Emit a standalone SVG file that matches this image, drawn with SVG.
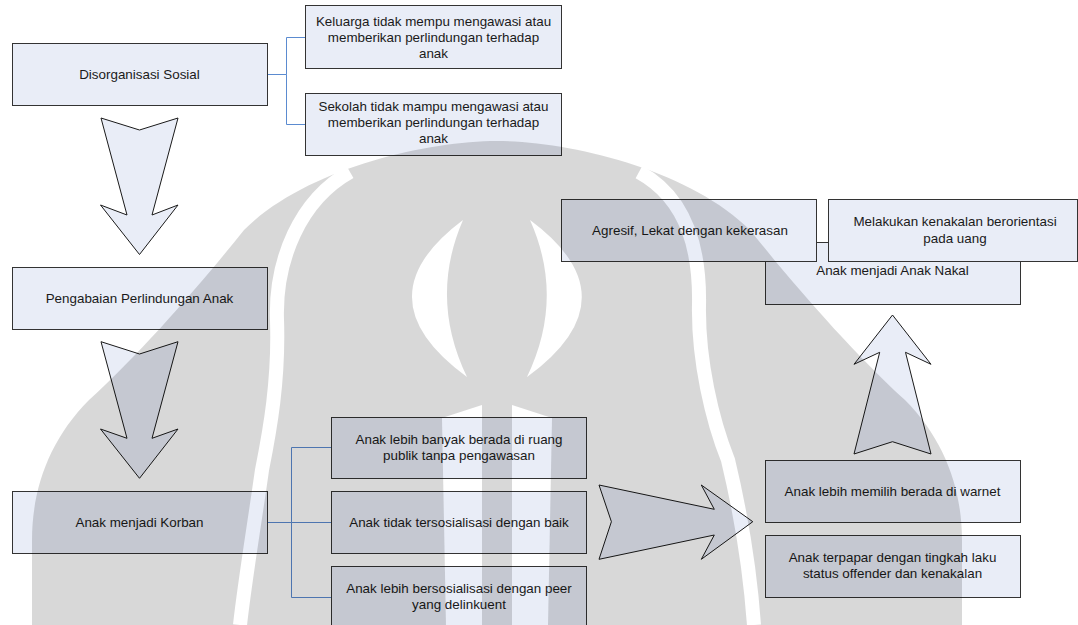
<svg xmlns="http://www.w3.org/2000/svg" width="1078" height="625" viewBox="0 0 1078 625">
<defs>
<style>
.box{fill:#E9EDF7;stroke:#333;stroke-width:1}
.arrow{fill:#E9EDF7;stroke:#1a1a1a;stroke-width:1;stroke-linejoin:miter}
.lbl{font-family:"Liberation Sans",Arial,sans-serif;font-size:13.4px;fill:#1a1a1a;text-anchor:middle}
.conn{fill:none;stroke:#5B8BD0;stroke-width:1}
.conn-dark{fill:none;stroke:#333;stroke-width:1}
</style>
<mask id="wmMask" maskUnits="userSpaceOnUse" x="0" y="0" width="1078" height="625">
<rect x="0" y="0" width="1078" height="625" fill="#fff"/>
<g fill="#000">
<path d="M463 220 Q359 298 467 377 Q429 298 463 220 Z"/>
<path d="M530 220 Q635 298 527 377 Q565 298 530 220 Z"/>
<path d="M442 418 L482 405 L482 625 L446 625 Z"/>
<path d="M552 418 L512 405 L512 625 L548 625 Z"/>
</g>
<g fill="none" stroke="#000" stroke-width="14">
<path d="M350 172 C300 200 275 260 277 320 C279 380 270 430 262 470 C255 520 245 580 240 625"/>
<path d="M639 172 C690 200 700 255 699 305 C698 360 712 420 728 460 C740 510 750 570 754 625"/>
</g>
</mask>
</defs>
<rect x="0" y="0" width="1078" height="625" fill="#fff"/>

<g id="connectors">
<path class="conn" d="M267.5 74.5 H286.5 V37.5 H305.5 M286.5 74.5 V124.5 H305.5"/>
<path class="conn" d="M267.5 522.5 H291.5 V447.5 H331.5 M291.5 522.5 H331.5 M291.5 522.5 V597.5 H331.5"/>
<path class="conn-dark" d="M816.5 242.5 H828.5"/>
</g>

<g id="node-disorganisasi">
<rect class="box" x="12.5" y="43.5" width="255" height="62"/>
<text class="lbl" x="139.5" y="78.5">Disorganisasi Sosial</text>
</g>
<g id="node-keluarga">
<rect class="box" x="305.5" y="5.5" width="256" height="63"/>
<text class="lbl" x="433.5" y="25.5">Keluarga tidak mempu mengawasi atau</text>
<text class="lbl" x="433.5" y="41.5">memberikan perlindungan terhadap</text>
<text class="lbl" x="433.5" y="57.5">anak</text>
</g>
<g id="node-sekolah">
<rect class="box" x="305.5" y="93.5" width="256" height="62"/>
<text class="lbl" x="433.5" y="110.5">Sekolah tidak mampu mengawasi atau</text>
<text class="lbl" x="433.5" y="126.5">memberikan perlindungan terhadap</text>
<text class="lbl" x="433.5" y="142.5">anak</text>
</g>
<g id="arrow-1">
<path class="arrow" d="M101 118 L139.5 130 L178 118 L152 215 L178 205 L139.5 254.5 L100.5 205 L127 215 Z"/>
</g>
<g id="node-pengabaian">
<rect class="box" x="12.5" y="267.5" width="255" height="62"/>
<text class="lbl" x="139.5" y="302.5">Pengabaian Perlindungan Anak</text>
</g>
<g id="arrow-2">
<path class="arrow" d="M101 341.7 L139.5 354 L178 341.7 L152 438.3 L178 429 L139.5 478.3 L100.5 429 L127 438.3 Z"/>
</g>
<g id="node-korban">
<rect class="box" x="12.5" y="491.5" width="255" height="62"/>
<text class="lbl" x="139.5" y="526.5">Anak menjadi Korban</text>
</g>
<g id="node-ruang-publik">
<rect class="box" x="331.5" y="417.5" width="255" height="61"/>
<text class="lbl" x="459" y="444">Anak lebih banyak berada di ruang</text>
<text class="lbl" x="459" y="460">publik tanpa pengawasan</text>
</g>
<g id="node-tersosialisasi">
<rect class="box" x="331.5" y="491.5" width="255" height="62"/>
<text class="lbl" x="459" y="526.5">Anak tidak tersosialisasi dengan baik</text>
</g>
<g id="node-peer">
<rect class="box" x="331.5" y="566.5" width="255" height="62"/>
<text class="lbl" x="459" y="593">Anak lebih bersosialisasi dengan peer</text>
<text class="lbl" x="459" y="609">yang delinkuent</text>
</g>
<g id="arrow-3">
<path class="arrow" d="M599 485 L714.3 509.3 L701.3 485 L752.8 521.7 L701.3 559.3 L714.3 535 L599 559.3 L611.4 521.7 Z"/>
</g>
<g id="node-warnet">
<rect class="box" x="765.5" y="460.5" width="255" height="62"/>
<text class="lbl" x="892.5" y="495.5">Anak lebih memilih berada di warnet</text>
</g>
<g id="node-terpapar">
<rect class="box" x="765.5" y="535.5" width="255" height="62"/>
<text class="lbl" x="892.5" y="562">Anak terpapar dengan tingkah laku</text>
<text class="lbl" x="892.5" y="578">status offender dan kenakalan</text>
</g>
<g id="arrow-4">
<path class="arrow" d="M854 454 L892.5 441.7 L931 454 L905.5 352.3 L931 364.3 L892.5 315 L854 364.3 L879.7 352.3 Z"/>
</g>
<g id="node-anak-nakal">
<rect class="box" x="765.5" y="242.5" width="255" height="62"/>
<text class="lbl" x="892.5" y="275">Anak menjadi Anak Nakal</text>
</g>
<g id="node-agresif">
<rect class="box" x="561.5" y="199.5" width="255" height="62"/>
<text class="lbl" x="690" y="234.5">Agresif, Lekat dengan kekerasan</text>
</g>
<g id="node-melakukan">
<rect class="box" x="828.5" y="199.5" width="249" height="62"/>
<text class="lbl" x="955" y="226">Melakukan kenakalan berorientasi</text>
<text class="lbl" x="955" y="243">pada uang</text>
</g>

<g id="watermark" opacity="0.15" mask="url(#wmMask)">
<path d="M497 141 C570 141 690 170 750 230 C790 280 850 350 905 400 C945 440 962 490 962 540 L962 625 L32 625 L32 540 C32 490 49 440 89 400 C144 350 204 280 244 230 C304 170 424 141 497 141 Z" fill="#000"/>
</g>
</svg>
